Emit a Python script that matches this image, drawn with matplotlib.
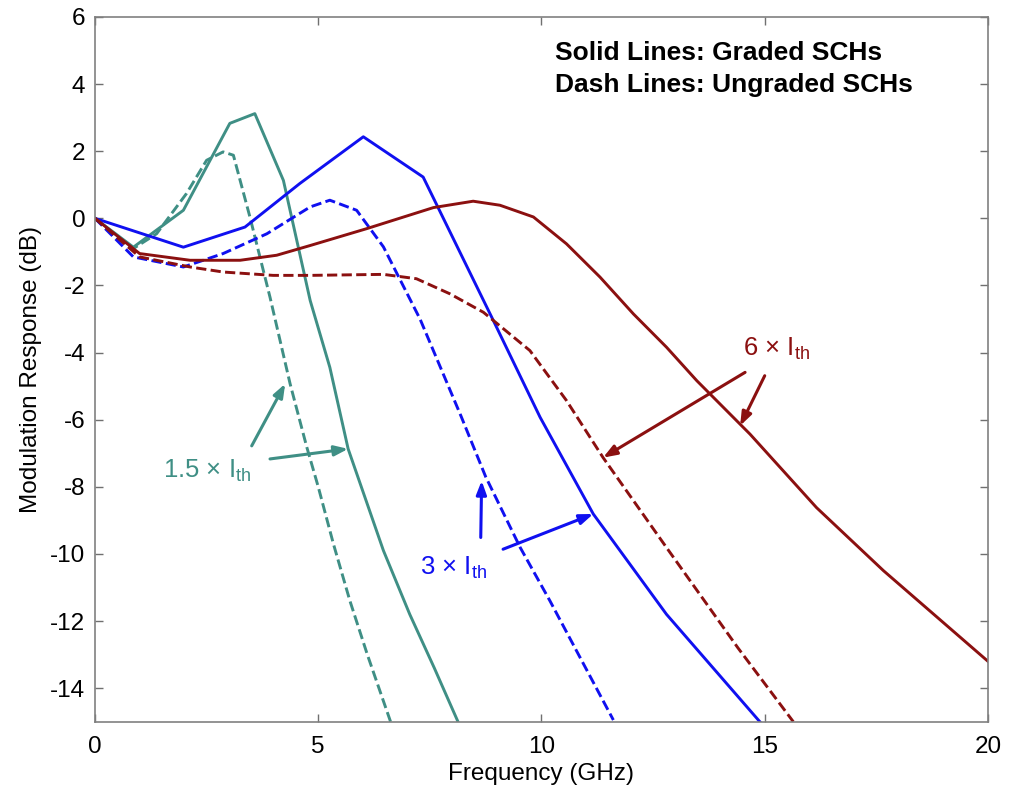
import matplotlib
matplotlib.use("Agg")
import matplotlib.pyplot as plt

plt.rcParams['font.family'] = ['Liberation Sans', 'DejaVu Sans']
plt.rcParams['mathtext.fontset'] = 'custom'
plt.rcParams['mathtext.rm'] = 'Liberation Sans'
plt.rcParams['axes.unicode_minus'] = False

# ---- data ----
f_g15 = [0, 0.86, 1.98, 3.02, 3.58, 4.22, 4.82, 5.26, 5.67, 6.46, 7.05, 7.6, 8.13]
r_g15 = [0, -0.86, 0.24, 2.83, 3.12, 1.13, -2.45, -4.44, -6.87, -9.9, -11.8, -13.4, -15.0]

f_u15 = [0, 0.5, 0.86, 1.38, 2.05, 2.5, 2.87, 3.1, 3.47, 3.92, 4.37, 4.74, 5.0, 5.34, 5.71, 6.1, 6.62]
r_u15 = [0, -0.6, -0.9, -0.46, 0.74, 1.73, 1.98, 1.88, 0.04, -2.35, -4.93, -6.8, -8.0, -9.7, -11.4, -13.0, -15.0]

f_g3 = [0, 1.98, 3.36, 4.59, 6.01, 7.35, 8.17, 8.92, 9.97, 11.16, 12.8, 14.89]
r_g3 = [0, -0.86, -0.26, 1.04, 2.43, 1.23, -1.0, -3.04, -5.93, -8.81, -11.8, -15.0]

f_u3 = [0, 0.86, 1.98, 2.87, 3.85, 4.82, 5.26, 5.86, 6.46, 7.28, 8.2, 8.75, 9.52, 10.19, 11.61]
r_u3 = [0, -1.15, -1.45, -1.05, -0.46, 0.34, 0.54, 0.24, -0.85, -3.0, -5.9, -7.7, -9.8, -11.4, -14.95]

f_g6 = [0, 1.0, 2.13, 3.25, 4.07, 4.82, 6.08, 7.58, 8.47, 9.07, 9.82, 10.56, 11.31, 12.06,
        12.8, 13.48, 14.67, 16.16, 17.66, 20.0]
r_g6 = [0, -1.05, -1.25, -1.25, -1.1, -0.81, -0.31, 0.32, 0.51, 0.39, 0.04, -0.76, -1.75, -2.85,
        -3.84, -4.84, -6.43, -8.62, -10.5, -13.2]

f_u6 = [0, 1.0, 2.13, 2.87, 3.99, 4.82, 6.46, 7.2, 7.95, 8.7, 9.74, 10.56, 11.38, 12.8, 14.4, 15.64]
r_u6 = [0, -1.15, -1.45, -1.6, -1.7, -1.7, -1.67, -1.8, -2.25, -2.8, -3.94, -5.43, -7.13, -9.81, -12.8, -15.0]

x_ticks = [0, 5, 10, 15, 20]
y_ticks = [6, 4, 2, 0, -2, -4, -6, -8, -10, -12, -14]

teal = '#3f8f85'
blue = '#1010f0'
red = '#8b1010'

fig = plt.figure(figsize=(10.18, 7.93), dpi=100)
ax = fig.add_axes([0.0933, 0.0899, 0.8772, 0.8887])

lw = 2.1
dash = (0, (3.5, 1.5))
ax.plot(f_g15, r_g15, color=teal, lw=lw)
ax.plot(f_u15, r_u15, color=teal, lw=lw, linestyle=dash)
ax.plot(f_g3, r_g3, color=blue, lw=lw)
ax.plot(f_u3, r_u3, color=blue, lw=lw, linestyle=dash)
ax.plot(f_g6, r_g6, color=red, lw=lw)
ax.plot(f_u6, r_u6, color=red, lw=lw, linestyle=dash)

ax.set_xlim(0, 20)
ax.set_ylim(-15, 6)
ax.set_xticks(x_ticks)
ax.set_yticks(y_ticks)
ax.tick_params(direction='in', top=True, right=True, length=6, width=1,
               color='#707070', labelsize=17.5)
ax.tick_params(axis='x', pad=10)
ax.tick_params(axis='y', pad=7)
for s in ax.spines.values():
    s.set_color('#808080')
    s.set_linewidth(1.2)

ax.set_xlabel('Frequency (GHz)', fontsize=17.5, labelpad=4)
ax.set_ylabel('Modulation Response (dB)', fontsize=17.5, labelpad=6)

ax.text(10.3, 4.93, 'Solid Lines: Graded SCHs', fontsize=19, fontweight='bold',
        va='center', ha='left')
ax.text(10.3, 3.97, 'Dash Lines: Ungraded SCHs', fontsize=19, fontweight='bold',
        va='center', ha='left')

ax.text(1.52, -7.52, r'1.5 $\times$ I$_{\mathrm{th}}$', fontsize=18.5, color=teal,
        va='center', ha='left')
ax.text(7.28, -10.4, r'3 $\times$ I$_{\mathrm{th}}$', fontsize=18.5, color=blue,
        va='center', ha='left')
ax.text(14.51, -3.88, r'6 $\times$ I$_{\mathrm{th}}$', fontsize=18.5, color=red,
        va='center', ha='left')

def arrow(x0, y0, x1, y1, c):
    ax.annotate('', xy=(x1, y1), xytext=(x0, y0),
                arrowprops=dict(arrowstyle='-|>,head_length=0.8,head_width=0.3',
                                color=c, lw=2.2, shrinkA=0, shrinkB=0))

arrow(3.51, -6.78, 4.26, -4.93, teal)
arrow(3.92, -7.17, 5.67, -6.87, teal)
arrow(8.64, -9.51, 8.66, -7.82, blue)
arrow(9.14, -9.86, 11.16, -8.81, blue)
arrow(14.56, -4.59, 11.38, -7.13, red)
arrow(15.0, -4.69, 14.45, -6.18, red)

fig.savefig('out.png', dpi=100)
